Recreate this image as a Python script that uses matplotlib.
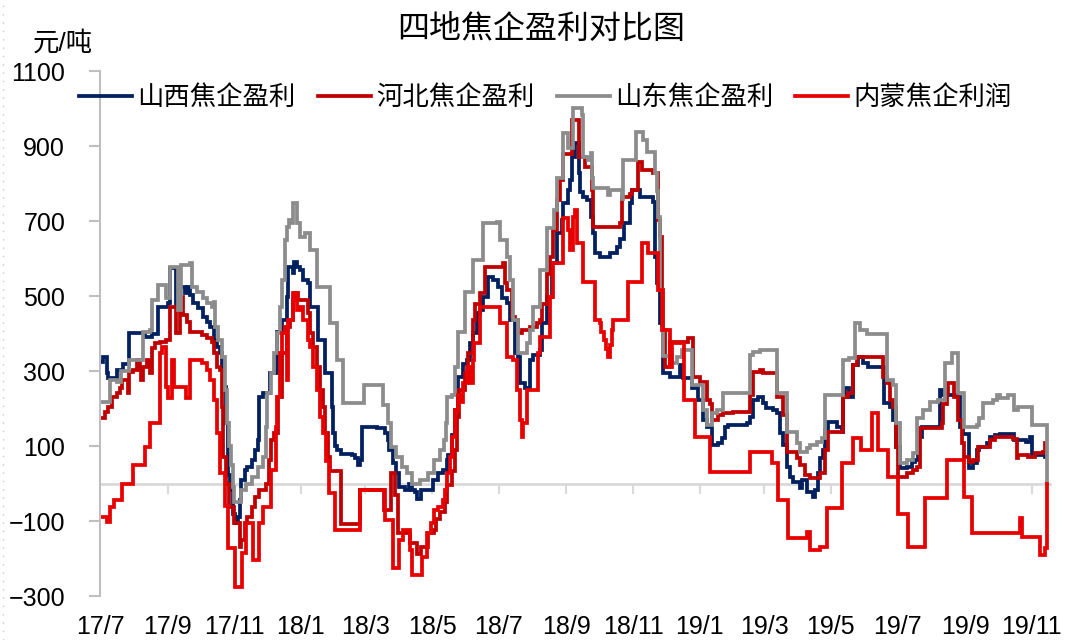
import matplotlib
matplotlib.use('Agg')
import matplotlib.pyplot as plt
import matplotlib.dates as mdates
from matplotlib.lines import Line2D
import pandas as pd

plt.rcParams['font.family'] = ['Liberation Sans', 'Noto Sans CJK SC']

# (date yy-mm-dd, profit yuan/ton) -- value holds from that date on
shanxi = [
    ('17-07-01', 324), ('17-07-04', 337), ('17-07-07', 294), ('17-07-08', 281), ('17-07-17', 303),
    ('17-07-22', 320), ('17-07-28', 401), ('17-08-11', 391), ('17-08-18', 398), ('17-08-23', 471),
    ('17-09-01', 481), ('17-09-03', 574), ('17-09-09', 471), ('17-09-10', 489), ('17-09-12', 524),
    ('17-09-17', 508), ('17-09-19', 524), ('17-09-21', 503), ('17-09-24', 481), ('17-09-29', 468),
    ('17-10-03', 444), ('17-10-07', 431), ('17-10-10', 418), ('17-10-13', 383), ('17-10-16', 365),
    ('17-10-19', 347), ('17-10-21', 311), ('17-10-22', 258), ('17-10-24', 161), ('17-10-26', 24),
    ('17-10-28', -17), ('17-10-31', -80), ('17-11-02', -106), ('17-11-04', -88), ('17-11-06', -44),
    ('17-11-07', 9), ('17-11-11', 36), ('17-11-13', 45), ('17-11-17', 63), ('17-11-20', 89),
    ('17-11-23', 116), ('17-11-24', 231), ('17-11-27', 241), ('17-12-04', 294), ('17-12-10', 404),
    ('17-12-15', 436), ('17-12-19', 498), ('17-12-20', 578), ('17-12-25', 561), ('17-12-26', 591),
    ('17-12-28', 578), ('17-12-31', 569), ('18-01-03', 543), ('18-01-07', 534), ('18-01-09', 471),
    ('18-01-17', 383), ('18-01-23', 294), ('18-01-29', 204), ('18-01-30', 135), ('18-02-01', 100),
    ('18-02-03', 89), ('18-02-07', 80), ('18-02-17', 76), ('18-02-19', 67), ('18-02-22', 49),
    ('18-02-24', 63), ('18-02-26', 150), ('18-03-12', 148), ('18-03-19', 135), ('18-03-22', 116),
    ('18-03-23', 89), ('18-03-26', 54), ('18-03-29', 27), ('18-04-01', -8), ('18-04-06', -17),
    ('18-04-10', 0), ('18-04-13', -17), ('18-04-15', -22), ('18-04-17', -40), ('18-04-21', -17),
    ('18-05-02', 9), ('18-05-06', 27), ('18-05-11', 36), ('18-05-15', 63), ('18-05-16', 76),
    ('18-05-19', 130), ('18-05-22', 196), ('18-05-25', 284), ('18-05-29', 320), ('18-06-02', 329),
    ('18-06-05', 374), ('18-06-07', 401), ('18-06-11', 454), ('18-06-14', 462), ('18-06-17', 498),
    ('18-06-21', 551), ('18-06-26', 543), ('18-06-30', 524), ('18-07-04', 495), ('18-07-09', 481),
    ('18-07-11', 436), ('18-07-16', 347), ('18-07-19', 337), ('18-07-20', 267), ('18-07-25', 254),
    ('18-07-30', 329), ('18-08-01', 343), ('18-08-08', 356), ('18-08-10', 427), ('18-08-14', 498),
    ('18-08-19', 587), ('18-08-23', 667), ('18-08-28', 703), ('18-08-29', 748), ('18-09-02', 782),
    ('18-09-04', 809), ('18-09-06', 871), ('18-09-09', 907), ('18-09-12', 827), ('18-09-13', 778),
    ('18-09-16', 764), ('18-09-20', 756), ('18-09-23', 711), ('18-09-25', 667), ('18-09-27', 614),
    ('18-10-02', 604), ('18-10-11', 614), ('18-10-17', 631), ('18-10-20', 653), ('18-10-24', 694),
    ('18-10-29', 748), ('18-10-31', 782), ('18-11-07', 764), ('18-11-19', 751), ('18-11-21', 604),
    ('18-11-23', 534), ('18-11-26', 427), ('18-11-28', 294), ('18-12-05', 284), ('18-12-14', 316),
    ('18-12-17', 281), ('18-12-25', 254), ('18-12-30', 223), ('19-01-04', 169), ('19-01-08', 151),
    ('19-01-12', 103), ('19-01-18', 108), ('19-01-21', 121), ('19-01-24', 151), ('19-01-27', 156),
    ('19-02-13', 161), ('19-02-16', 177), ('19-02-19', 223), ('19-02-23', 231), ('19-02-28', 215),
    ('19-03-03', 201), ('19-03-09', 196), ('19-03-13', 187), ('19-03-15', 135), ('19-03-18', 103),
    ('19-03-22', 44), ('19-03-25', 18), ('19-03-27', 4), ('19-04-03', -12), ('19-04-05', 9),
    ('19-04-09', -22), ('19-04-15', -36), ('19-04-16', -18), ('19-04-19', 27), ('19-04-21', 68),
    ('19-04-24', 89), ('19-04-26', 143), ('19-04-28', 164), ('19-05-07', 150), ('19-05-11', 137),
    ('19-05-12', 231), ('19-05-14', 254), ('19-05-18', 231), ('19-05-21', 316), ('19-05-26', 337),
    ('19-05-30', 321), ('19-06-04', 311), ('19-06-19', 215), ('19-06-24', 204), ('19-06-27', 169),
    ('19-06-30', 97), ('19-07-03', 41), ('19-07-10', 44), ('19-07-14', 57), ('19-07-17', 63),
    ('19-07-20', 124), ('19-07-23', 151), ('19-08-09', 249), ('19-08-11', 236), ('19-08-24', 231),
    ('19-08-27', 151), ('19-08-30', 133), ('19-09-04', 41), ('19-09-08', 55), ('19-09-12', 89),
    ('19-09-14', 97), ('19-09-21', 108), ('19-09-24', 124), ('19-09-28', 129), ('19-10-03', 133),
    ('19-10-16', 116), ('19-10-27', 111), ('19-10-30', 124), ('19-11-01', 76), ('19-11-13', 71),
]

hebei = [
    ('17-07-01', 175), ('17-07-06', 191), ('17-07-08', 204), ('17-07-12', 231), ('17-07-17', 241),
    ('17-07-19', 255), ('17-07-21', 276), ('17-07-27', 241), ('17-07-28', 297), ('17-07-31', 303),
    ('17-08-04', 329), ('17-08-07', 303), ('17-08-08', 276), ('17-08-09', 311), ('17-08-13', 329),
    ('17-08-16', 294), ('17-08-18', 361), ('17-08-20', 374), ('17-08-25', 378), ('17-08-30', 383),
    ('17-09-03', 471), ('17-09-09', 401), ('17-09-12', 476), ('17-09-14', 498), ('17-09-15', 449),
    ('17-09-19', 431), ('17-09-21', 404), ('17-10-02', 396), ('17-10-07', 387), ('17-10-12', 378),
    ('17-10-13', 347), ('17-10-16', 311), ('17-10-19', 303), ('17-10-21', 204), ('17-10-22', 72),
    ('17-10-24', 0), ('17-10-27', -62), ('17-11-01', -106), ('17-11-06', -168), ('17-11-07', -151),
    ('17-11-11', -106), ('17-11-13', -88), ('17-11-17', -62), ('17-11-20', -35), ('17-11-24', -17),
    ('17-11-30', 0), ('17-12-03', 63), ('17-12-05', 116), ('17-12-07', 135), ('17-12-11', 231),
    ('17-12-15', 347), ('17-12-19', 418), ('17-12-22', 436), ('17-12-25', 489), ('17-12-26', 507),
    ('17-12-29', 489), ('18-01-07', 454), ('18-01-09', 401), ('18-01-12', 365), ('18-01-16', 311),
    ('18-01-18', 249), ('18-01-21', 204), ('18-01-23', 135), ('18-01-26', 72), ('18-01-28', 33),
    ('18-02-07', -108), ('18-02-24', -18), ('18-03-18', -71), ('18-03-24', 27), ('18-03-28', -30),
    ('18-03-31', -131), ('18-04-11', -159), ('18-04-17', -187), ('18-04-21', -169), ('18-04-27', -131),
    ('18-05-03', -124), ('18-05-05', -95), ('18-05-08', -77), ('18-05-13', -49), ('18-05-15', -4),
    ('18-05-19', 33), ('18-05-22', 89), ('18-05-24', 178), ('18-05-26', 249), ('18-05-31', 294),
    ('18-06-03', 347), ('18-06-07', 436), ('18-06-09', 480), ('18-06-14', 507), ('18-06-18', 578),
    ('18-07-05', 587), ('18-07-07', 534), ('18-07-09', 516), ('18-07-13', 445), ('18-07-16', 436),
    ('18-07-19', 401), ('18-07-22', 409), ('18-07-30', 418), ('18-08-05', 427), ('18-08-08', 436),
    ('18-08-10', 480), ('18-08-14', 560), ('18-08-17', 604), ('18-08-20', 676), ('18-08-23', 756),
    ('18-08-26', 809), ('18-08-29', 880), ('18-09-06', 969), ('18-09-12', 871), ('18-09-18', 844),
    ('18-09-24', 782), ('18-09-25', 684), ('18-10-20', 694), ('18-10-22', 764), ('18-10-29', 773),
    ('18-10-31', 782), ('18-11-05', 858), ('18-11-09', 836), ('18-11-19', 827), ('18-11-24', 702),
    ('18-11-26', 658), ('18-11-27', 409), ('18-11-30', 311), ('18-12-05', 378), ('18-12-21', 387),
    ('18-12-26', 284), ('19-01-01', 271), ('19-01-08', 223), ('19-01-10', 213), ('19-01-12', 169),
    ('19-01-18', 182), ('19-01-22', 187), ('19-01-31', 191), ('19-02-16', 236), ('19-02-19', 298),
    ('19-02-25', 303), ('19-02-28', 294), ('19-03-13', 231), ('19-03-18', 182), ('19-03-22', 84),
    ('19-03-31', 68), ('19-04-03', 49), ('19-04-07', 23), ('19-04-12', 14), ('19-04-21', 27),
    ('19-04-26', 89), ('19-04-28', 137), ('19-05-12', 231), ('19-05-17', 241), ('19-05-21', 316),
    ('19-05-25', 338), ('19-06-18', 284), ('19-06-21', 267), ('19-06-24', 223), ('19-06-27', 204),
    ('19-06-30', 97), ('19-07-01', 17), ('19-07-10', 28), ('19-07-15', 36), ('19-07-19', 44),
    ('19-07-22', 147), ('19-08-11', 161), ('19-08-12', 213), ('19-08-15', 241), ('19-08-16', 267),
    ('19-08-22', 231), ('19-08-25', 169), ('19-08-29', 108), ('19-08-31', 71), ('19-09-04', 57),
    ('19-09-08', 63), ('19-09-13', 97), ('19-09-24', 116), ('19-09-28', 124), ('19-10-15', 119),
    ('19-10-18', 68), ('19-10-19', 76), ('19-10-28', 71), ('19-11-04', 81), ('19-11-11', 84),
    ('19-11-13', 108), ('19-11-14', 108),
]

shandong = [
    ('17-07-01', 218), ('17-07-10', 276), ('17-07-17', 270), ('17-07-20', 300), ('17-07-28', 329),
    ('17-08-09', 404), ('17-08-16', 409), ('17-08-18', 489), ('17-08-23', 529), ('17-08-30', 495),
    ('17-09-03', 578), ('17-09-10', 462), ('17-09-13', 582), ('17-09-21', 588), ('17-09-23', 524),
    ('17-09-28', 511), ('17-10-03', 495), ('17-10-07', 481), ('17-10-12', 471), ('17-10-13', 484),
    ('17-10-14', 418), ('17-10-17', 383), ('17-10-21', 338), ('17-10-23', 250), ('17-10-25', 161),
    ('17-10-27', 100), ('17-10-29', 50), ('17-10-31', -10), ('17-11-01', -50), ('17-11-07', -17),
    ('17-11-12', 0), ('17-11-17', 18), ('17-11-23', 45), ('17-11-27', 72), ('17-11-30', 150),
    ('17-12-01', 241), ('17-12-05', 294), ('17-12-07', 348), ('17-12-10', 401), ('17-12-13', 471),
    ('17-12-15', 543), ('17-12-17', 649), ('17-12-19', 684), ('17-12-21', 702), ('17-12-23', 694),
    ('17-12-25', 748), ('17-12-28', 694), ('17-12-31', 658), ('18-01-05', 668), ('18-01-09', 623),
    ('18-01-16', 524), ('18-01-28', 427), ('18-02-03', 329), ('18-02-08', 215), ('18-02-28', 263),
    ('18-03-17', 209), ('18-03-22', 161), ('18-03-24', 98), ('18-03-29', 72), ('18-04-03', 45),
    ('18-04-08', 27), ('18-04-13', 0), ('18-04-20', 9), ('18-04-27', 27), ('18-05-03', 63),
    ('18-05-08', 89), ('18-05-12', 116), ('18-05-14', 161), ('18-05-15', 231), ('18-05-19', 236),
    ('18-05-22', 311), ('18-05-25', 404), ('18-05-31', 511), ('18-06-07', 596), ('18-06-17', 694),
    ('18-06-29', 698), ('18-07-02', 649), ('18-07-09', 604), ('18-07-11', 543), ('18-07-14', 436),
    ('18-07-19', 347), ('18-07-27', 374), ('18-07-30', 409), ('18-08-01', 471), ('18-08-08', 569),
    ('18-08-14', 681), ('18-08-21', 729), ('18-08-23', 814), ('18-08-29', 934), ('18-09-02', 894),
    ('18-09-07', 1001), ('18-09-15', 983), ('18-09-16', 871), ('18-09-21', 862), ('18-09-23', 881),
    ('18-09-24', 814), ('18-09-25', 787), ('18-10-09', 769), ('18-10-11', 782), ('18-10-22', 760),
    ('18-10-23', 862), ('18-11-04', 937), ('18-11-10', 916), ('18-11-14', 885), ('18-11-21', 827),
    ('18-11-23', 780), ('18-11-24', 711), ('18-11-26', 516), ('18-11-28', 340), ('18-12-07', 321),
    ('18-12-11', 337), ('18-12-16', 355), ('18-12-25', 263), ('19-01-04', 196), ('19-01-08', 156),
    ('19-01-12', 187), ('19-01-17', 196), ('19-01-22', 241), ('19-02-16', 343), ('19-02-19', 351),
    ('19-02-25', 356), ('19-03-13', 241), ('19-03-22', 137), ('19-03-31', 108), ('19-04-03', 84),
    ('19-04-09', 95), ('19-04-12', 103), ('19-04-18', 111), ('19-04-23', 121), ('19-04-26', 236),
    ('19-05-12', 329), ('19-05-18', 335), ('19-05-23', 428), ('19-05-28', 409), ('19-06-03', 400),
    ('19-06-21', 276), ('19-06-27', 263), ('19-06-30', 161), ('19-07-03', 55), ('19-07-10', 63),
    ('19-07-15', 81), ('19-07-19', 175), ('19-07-24', 196), ('19-07-31', 217), ('19-08-07', 223),
    ('19-08-13', 321), ('19-08-20', 348), ('19-08-25', 241), ('19-08-31', 151), ('19-09-12', 156),
    ('19-09-14', 175), ('19-09-17', 215), ('19-09-26', 223), ('19-09-30', 236), ('19-10-03', 228),
    ('19-10-10', 236), ('19-10-16', 196), ('19-10-19', 204), ('19-11-01', 156), ('19-11-15', 0),
]

neimeng = [
    ('17-07-01', -88), ('17-07-07', -102), ('17-07-10', -62), ('17-07-14', -44), ('17-07-21', 0),
    ('17-07-31', 49), ('17-08-11', 98), ('17-08-16', 161), ('17-08-25', 347), ('17-08-27', 365),
    ('17-08-30', 258), ('17-09-01', 228), ('17-09-05', 329), ('17-09-07', 258), ('17-09-18', 228),
    ('17-09-21', 329), ('17-10-02', 321), ('17-10-07', 303), ('17-10-10', 276), ('17-10-13', 223),
    ('17-10-16', 135), ('17-10-19', 27), ('17-10-23', -60), ('17-10-26', -173), ('17-11-02', -275),
    ('17-11-08', -186), ('17-11-12', -106), ('17-11-18', -204), ('17-11-24', -106), ('17-11-27', -62),
    ('17-12-05', 36), ('17-12-09', 150), ('17-12-10', 231), ('17-12-13', 347), ('17-12-15', 401),
    ('17-12-17', 418), ('17-12-19', 276), ('17-12-20', 436), ('17-12-25', 507), ('17-12-28', 462),
    ('17-12-31', 471), ('18-01-03', 436), ('18-01-07', 383), ('18-01-09', 365), ('18-01-12', 311),
    ('18-01-16', 249), ('18-01-18', 178), ('18-01-21', 135), ('18-01-24', 60), ('18-01-27', -26),
    ('18-02-01', -124), ('18-02-24', -17), ('18-03-19', -97), ('18-03-26', -226), ('18-04-01', -151),
    ('18-04-04', -124), ('18-04-11', -177), ('18-04-13', -244), ('18-04-22', -195), ('18-04-26', -133),
    ('18-04-30', -106), ('18-05-03', -71), ('18-05-06', -62), ('18-05-11', -44), ('18-05-13', -17),
    ('18-05-15', 27), ('18-05-17', 72), ('18-05-19', 124), ('18-05-22', 196), ('18-05-25', 236),
    ('18-05-28', 217), ('18-05-29', 267), ('18-06-02', 311), ('18-06-05', 267), ('18-06-07', 329),
    ('18-06-08', 374), ('18-06-14', 471), ('18-07-02', 427), ('18-07-09', 337), ('18-07-14', 329),
    ('18-07-18', 249), ('18-07-20', 169), ('18-07-22', 124), ('18-07-23', 161), ('18-07-27', 249),
    ('18-08-06', 347), ('18-08-08', 391), ('18-08-17', 498), ('18-08-20', 587), ('18-08-29', 707),
    ('18-09-02', 676), ('18-09-04', 623), ('18-09-07', 711), ('18-09-09', 729), ('18-09-11', 641),
    ('18-09-16', 538), ('18-09-27', 436), ('18-10-02', 427), ('18-10-03', 405), ('18-10-05', 383),
    ('18-10-07', 360), ('18-10-09', 337), ('18-10-11', 370), ('18-10-13', 410), ('18-10-14', 436),
    ('18-10-27', 538), ('18-11-09', 641), ('18-11-15', 614), ('18-11-24', 516), ('18-11-28', 409),
    ('18-12-05', 311), ('18-12-07', 374), ('18-12-18', 223), ('18-12-28', 124), ('19-01-10', 31),
    ('19-02-16', 84), ('19-03-08', 55), ('19-03-14', -44), ('19-03-23', -146), ('19-04-09', -129),
    ('19-04-12', -177), ('19-04-21', -169), ('19-04-27', -66), ('19-05-11', 55), ('19-05-21', 121),
    ('19-05-29', 89), ('19-06-08', 187), ('19-06-13', 89), ('19-06-22', 17), ('19-07-01', -80),
    ('19-07-11', -169), ('19-07-26', -39), ('19-08-15', 63), ('19-08-31', -36), ('19-09-07', -133),
    ('19-10-21', -92), ('19-10-23', -142), ('19-11-08', -190), ('19-11-13', -172), ('19-11-15', 0),
]

series_names = ['山西焦企盈利', '河北焦企盈利', '山东焦企盈利', '内蒙焦企利润']
series_colors = ['#002060', '#C00000', '#8C8C8C', '#E80000']

tick_months = pd.date_range('2017-07-01', '2019-11-01', freq='2MS')
tick_labels = ['%d/%d' % (d.year % 100, d.month) for d in tick_months]
y_ticks = list(range(-300, 1101, 200))


def to_xy(points):
    dates = pd.to_datetime([p[0] for p in points], format='%y-%m-%d')
    values = [p[1] for p in points]
    return dates, values


fig = plt.figure(figsize=(10.68, 6.4), dpi=100)
ax = fig.add_axes([0.0936, 0.06875, 0.8895, 0.8203])

for pts, name, col in zip([shanxi, hebei, shandong, neimeng], series_names, series_colors):
    x, y = to_xy(pts)
    ax.plot(x, y, color=col, lw=2.7, drawstyle='steps-post', label=name, solid_joinstyle='miter')

ax.set_xlim(pd.Timestamp('2017-07-01'), pd.Timestamp('2019-11-17 12:00'))
ax.set_ylim(-300, 1100)
ax.set_yticks(y_ticks)

# axis styling like excel
ax.spines['top'].set_visible(False)
ax.spines['right'].set_visible(False)
ax.spines['left'].set_color('#BFBFBF')
ax.spines['left'].set_linewidth(1.5)
ax.spines['bottom'].set_position(('data', 0))
ax.spines['bottom'].set_color('#D9D9D9')
ax.spines['bottom'].set_linewidth(2)
ax.spines['bottom'].set_zorder(0.5)

tick_nums = mdates.date2num(tick_months)
ax.set_xticks(tick_nums)
ax.tick_params(axis='x', direction='out', length=7, width=1.5, color='#D9D9D9', labelbottom=False)
ax.tick_params(axis='y', direction='out', length=8, width=1.5, color='#BFBFBF', labelsize=18, pad=17)

# month labels sit at the bottom, not on the zero line
sec = ax.secondary_xaxis('bottom')
sec.set_xticks(tick_nums, tick_labels)
sec.tick_params(length=0, labelsize=18, pad=14)
sec.spines['bottom'].set_visible(False)

ax.legend(loc='center', bbox_to_anchor=(0.469, 0.949), ncol=4, frameon=False, fontsize=19,
          handlelength=2.0, handletextpad=0.2, columnspacing=0.85)

fig.text(0.507, 0.953, '四地焦企盈利对比图', fontsize=23, ha='center', va='center')
fig.text(0.059, 0.933, '元/吨', fontsize=19, ha='center', va='center')

# dotted border at the left edge
fig.add_artist(Line2D([0.003, 0.003], [0, 1], transform=fig.transFigure, color='#C8C8C8',
                      lw=1, ls=(0, (1, 5))))

plt.savefig('out.png', dpi=100)
plt.close()
